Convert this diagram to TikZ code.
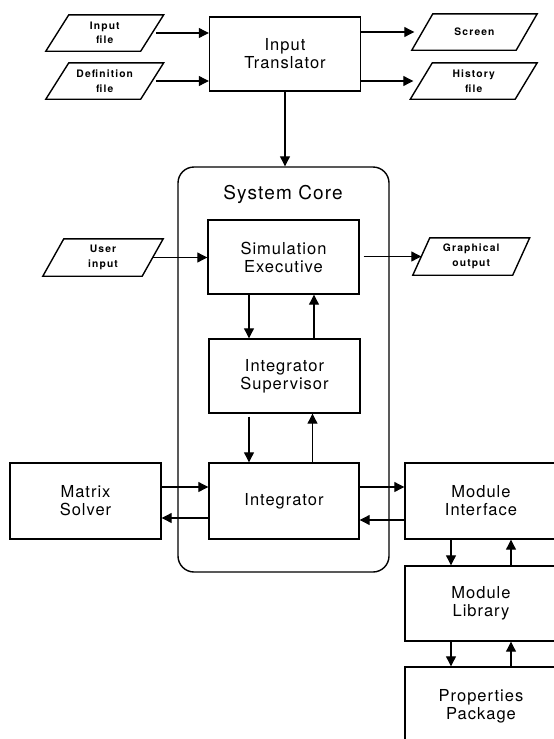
\documentclass[tikz,border=0pt]{standalone}
\usepackage{fontspec}
\setmainfont{TeX Gyre Heros}
\newfontfamily\mainf[LetterSpace=6]{TeX Gyre Heros}
\newfontfamily\smallf[LetterSpace=11]{TeX Gyre Heros}
\usetikzlibrary{arrows.meta}
\tikzset{
  box/.style={draw, line width=1.4pt, minimum width=151pt, minimum height=74pt, align=center,
    inner sep=0pt, font=\mainf\fontsize{16.5}{18}\selectfont},
  iobox/.style={inner sep=0pt, minimum height=36pt, align=center,
    font=\smallf\bfseries\fontsize{10.3}{14.5}\selectfont},
  ioline/.style={line width=1.4pt, line join=miter},
  arr/.style={-{Triangle[length=10pt,width=10pt]}, line width=1.1pt},
  corebox/.style={draw, line width=1.4pt, rounded corners=16pt, minimum width=211pt, minimum height=405pt},
  titletext/.style={font=\mainf\fontsize{19}{21}\selectfont}
}
\newcommand\iopar[2]{\draw[ioline] ([xshift=#2]#1.north west) -- ([xshift=#2]#1.north east)
  -- ([xshift=-#2]#1.south east) -- ([xshift=-#2]#1.south west) -- cycle;}
\begin{document}
\begin{tikzpicture}[x=1pt,y=-1pt]
\useasboundingbox (0,0) rectangle (554,739);
\clip (0,0) rectangle (554,739);
% system core
\node[corebox] (core) at (283.5,369.5) {};
\node[titletext] (title) at (283,194) {System Core};
% boxes
\node[box] (it) at (285,54) {Input\\Translator};
\node[box] (se) at (283.5,257) {Simulation\\Executive};
\node[box] (is) at (284.5,376) {Integrator\\Supervisor};
\node[box, minimum width=150pt, minimum height=76pt] (ig) at (284,501) {Integrator};
\node[box, minimum height=76pt] (ms) at (85.5,501) {Matrix\\Solver};
\node[box, minimum width=152pt, minimum height=76pt] (mi) at (481,501) {Module\\Interface};
\node[box, minimum width=152pt, minimum height=75pt] (ml) at (481,603.5) {Module\\Library};
\node[box, minimum width=152pt, minimum height=78pt] (pp) at (481,706) {Properties\\Package};
% io parallelograms
\node[iobox, minimum width=94.5pt] (inf) at (104.75,33) {Input\\file};
\node[iobox, minimum width=94.5pt] (def) at (104.75,81) {Definition\\file};
\node[iobox, minimum width=104pt] (scr) at (474.5,32) {Screen};
\node[iobox, minimum width=104.5pt] (his) at (473.75,81) {History\\file};
\node[iobox, minimum width=99pt, minimum height=37pt] (usr) at (103,257.5) {User\\input};
\node[iobox, minimum width=99.5pt, minimum height=37pt] (gro) at (471.25,256.5) {Graphical\\output};
\iopar{inf}{11.5pt}
\iopar{def}{11.5pt}
\iopar{scr}{10.5pt}
\iopar{his}{11pt}
\iopar{usr}{10.5pt}
\iopar{gro}{8.5pt}
% connectors
\draw[arr] ([xshift=4pt]inf.east) -- (inf.east -| it.west);
\draw[arr] ([xshift=4pt]def.east) -- (def.east -| it.west);
\draw[arr] (it.east |- scr.west) -- ([xshift=-8pt]scr.west);
\draw[arr] (it.east |- his.west) -- ([xshift=-8pt]his.west);
\draw[arr] (it.south) -- (it.south |- core.north);
\draw[arr] (usr.east) -- (usr.east -| se.west);
\draw[arr] ([xshift=4pt]se.east |- gro.west) -- (gro.west);
\draw[arr] ([xshift=-34.5pt]se.south) -- ([xshift=-34.5pt]se.south |- is.north);
\draw[arr] ([xshift=29.5pt]is.north) -- ([xshift=29.5pt]is.north |- se.south);
\draw[arr] ([xshift=-35.5pt,yshift=-3pt]is.south) -- ([xshift=-35.5pt]is.south |- ig.north);
\draw[arr] ([xshift=28.5pt]ig.north) -- ([xshift=28.5pt]ig.north |- is.south);
\draw[arr] ([yshift=14pt]ms.east) -- ([yshift=14pt]ms.east -| ig.west);
\draw[arr] ([yshift=-17pt]ig.west) -- ([yshift=-17pt]ig.west -| ms.east);
\draw[arr] ([yshift=14pt]ig.east) -- ([yshift=14pt]ig.east -| mi.west);
\draw[arr] ([yshift=-19pt]mi.west) -- ([yshift=-19pt]mi.west -| ig.east);
\draw[arr] ([xshift=-30pt]mi.south) -- ([xshift=-30pt]mi.south |- ml.north);
\draw[arr] ([xshift=30pt]ml.north) -- ([xshift=30pt]ml.north |- mi.south);
\draw[arr] ([xshift=-30pt]ml.south) -- ([xshift=-30pt]ml.south |- pp.north);
\draw[arr] ([xshift=30pt]pp.north) -- ([xshift=30pt]pp.north |- ml.south);
\end{tikzpicture}
\end{document}
